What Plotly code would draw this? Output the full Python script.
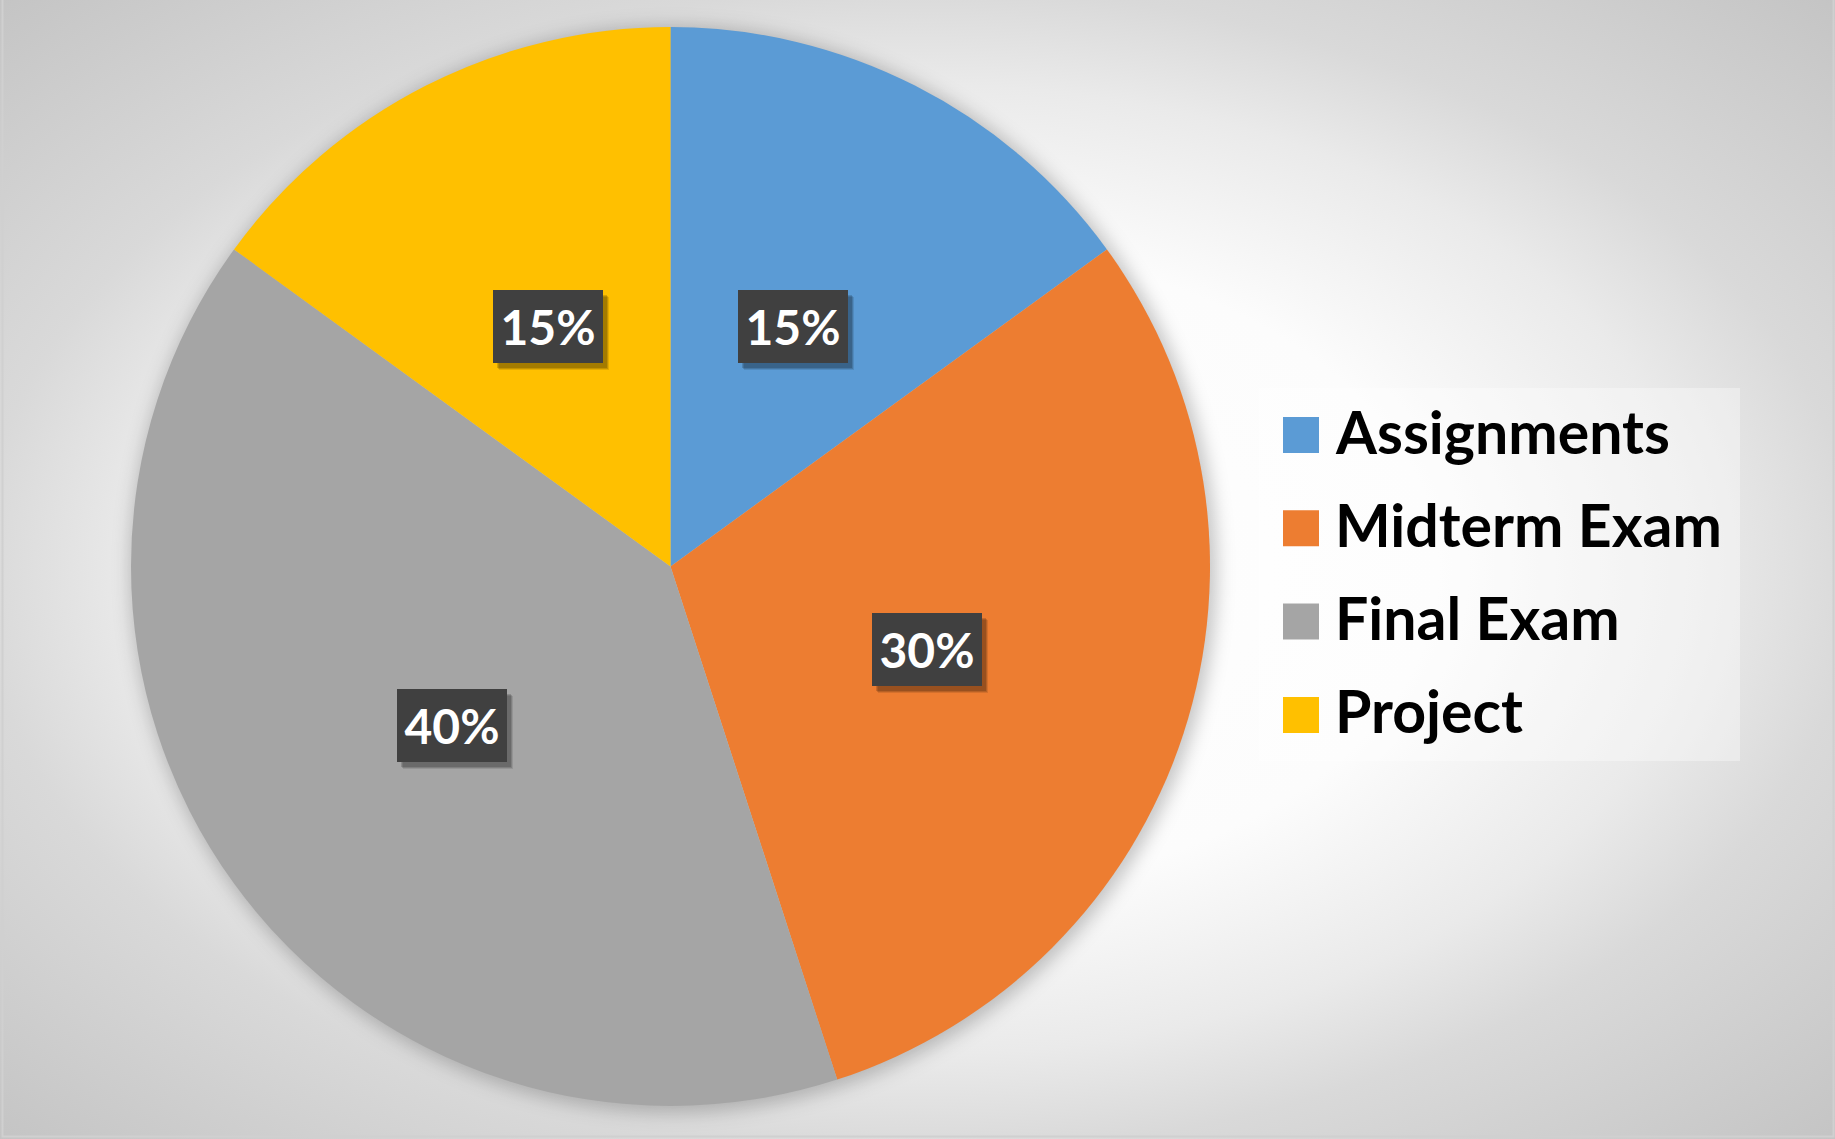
import base64
import math
import plotly.graph_objects as go

# Grade weighting data
categories = ["Assignments", "Midterm Exam", "Final Exam", "Project"]
weights = [15, 30, 40, 15]
colors = ["#5B9BD5", "#ED7D31", "#A5A5A5", "#FFC000"]

W, H = 1835, 1139
FONT = "Lato"

# Pie placement in pixels
cx, cy, R = 670.5, 566.5, 539.5

def px_x(x):
    return x / W

def px_y(y):
    return 1 - y / H

# Background: radial gradient panel with a soft halo behind the pie
bg_svg = f"""<svg xmlns='http://www.w3.org/2000/svg' width='{W}' height='{H}' viewBox='0 0 {W} {H}'>
<defs>
<radialGradient id='g' cx='50%' cy='50%' r='71%'>
<stop offset='0' stop-color='#ffffff'/>
<stop offset='0.40' stop-color='#fcfcfc'/>
<stop offset='0.60' stop-color='#eaeaea'/>
<stop offset='0.72' stop-color='#d9d9d9'/>
<stop offset='1' stop-color='#c4c4c4'/>
</radialGradient>
<filter id='b' x='-20%' y='-20%' width='140%' height='140%'><feGaussianBlur stdDeviation='9'/></filter>
</defs>
<rect x='0' y='0' width='{W}' height='{H}' fill='url(#g)'/>
<circle cx='{cx + 3}' cy='{cy + 3}' r='{R + 4}' fill='rgba(0,0,0,0.22)' filter='url(#b)'/>
</svg>"""
bg_uri = "data:image/svg+xml;base64," + base64.b64encode(bg_svg.encode()).decode()

fig = go.Figure()
fig.add_trace(go.Pie(
    labels=categories,
    values=weights,
    marker=dict(colors=colors, line=dict(width=0)),
    sort=False,
    direction="clockwise",
    rotation=0,
    textinfo="none",
    hoverinfo="label+percent",
    showlegend=False,
    domain=dict(x=[px_x(cx - R), px_x(cx + R)], y=[px_y(cy + R), px_y(cy - R)]),
))

annotations = []
shapes = []

# Percentage labels at half radius, centred on each slice's mid-angle
total = sum(weights)
cum = 0
for v in weights:
    mid = (cum + v / 2) / total * 2 * math.pi
    cum += v
    lx = cx + 0.5 * R * math.sin(mid)
    ly = cy - 0.5 * R * math.cos(mid)
    pct = f"{round(v / total * 100)}%"
    # soft drop shadow
    for dx, dy, a in ((6, 7, 0.10), (5, 6, 0.14), (4, 5, 0.16)):
        annotations.append(dict(
            x=px_x(lx + dx), y=px_y(ly + dy), xref="paper", yref="paper",
            text=" ", showarrow=False, width=110, height=73,
            bgcolor=f"rgba(0,0,0,{a})", borderpad=0, borderwidth=0,
            xanchor="center", yanchor="middle",
        ))
    annotations.append(dict(
        x=px_x(lx), y=px_y(ly), xref="paper", yref="paper",
        text=pct, showarrow=False, width=110, height=73,
        bgcolor="#404040", borderpad=0, borderwidth=0,
        font=dict(family=FONT, size=48, color="white", weight="bold"),
        xanchor="center", yanchor="middle", align="center",
    ))

# Legend panel
lg_x0, lg_x1, lg_y0, lg_y1 = 1259, 1740, 388, 761
shapes.append(dict(
    type="rect", xref="paper", yref="paper",
    x0=px_x(lg_x0), x1=px_x(lg_x1), y0=px_y(lg_y1), y1=px_y(lg_y0),
    fillcolor="rgba(255,255,255,0.35)", line=dict(width=0), layer="above",
))
row0, row_step = 435, 93.3
for i, (name, col) in enumerate(zip(categories, colors)):
    ry = row0 + i * row_step
    shapes.append(dict(
        type="rect", xref="paper", yref="paper",
        x0=px_x(1283), x1=px_x(1319), y0=px_y(ry + 18), y1=px_y(ry - 18),
        fillcolor=col, line=dict(width=0), layer="above",
    ))
    annotations.append(dict(
        x=px_x(1333), y=px_y(ry - 4), xref="paper", yref="paper",
        text=name, showarrow=False, xanchor="left", yanchor="middle",
        font=dict(family=FONT, size=59, color="black", weight="bold"),
    ))

# Outer chart border
shapes.append(dict(
    type="rect", xref="paper", yref="paper",
    x0=px_x(2.5), x1=px_x(1833.5), y0=px_y(1136.5), y1=px_y(-2),
    line=dict(color="#d0d0d0", width=2), fillcolor="rgba(0,0,0,0)", layer="above",
))

fig.update_layout(
    width=W, height=H,
    margin=dict(l=0, r=0, t=0, b=0),
    paper_bgcolor="white",
    plot_bgcolor="rgba(0,0,0,0)",
    images=[dict(source=bg_uri, xref="paper", yref="paper", x=0, y=1,
                 sizex=1, sizey=1, sizing="stretch", layer="below",
                 xanchor="left", yanchor="top")],
    annotations=annotations,
    shapes=shapes,
    font=dict(family=FONT),
)

fig.write_html("out.html")
